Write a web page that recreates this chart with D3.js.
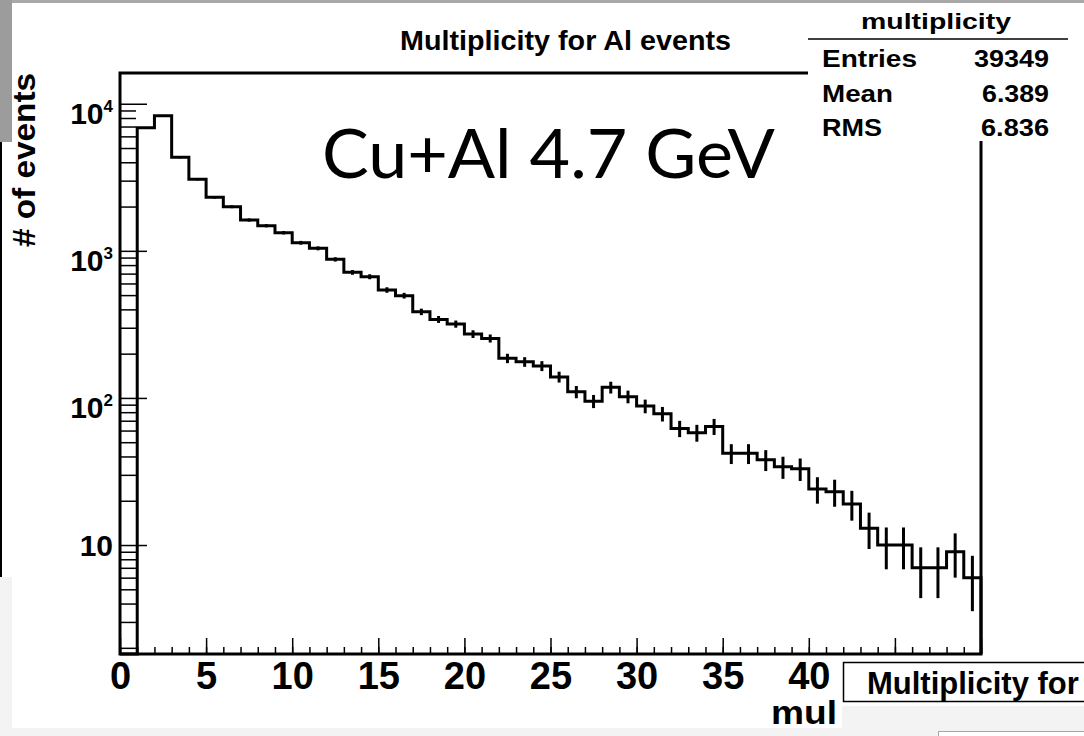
<!DOCTYPE html>
<html>
<head>
<meta charset="utf-8">
<script src="https://d3js.org/d3.v7.min.js"></script>
<style>
  body { margin: 0; background: white; }
  svg { display: block; font-family: "Liberation Sans", Arial, sans-serif; }
</style>
</head>
<body>
<div id="plot"></div>
<script>
// DATA: multiplicity histogram, 50 bins of width 1 from 0 to 50
var bin_lo = 0;
var bin_hi = 50;
var counts = [
  0, 6870, 8280, 4320, 3063, 2311, 1994, 1620, 1482, 1328,
  1135, 1040, 875, 714, 667, 542, 496, 385, 342, 318,
  272, 254, 186, 176, 165, 139, 110, 95, 118, 102,
  88, 78, 62, 58, 64, 42, 42, 38, 34, 33,
  24, 23, 19, 13, 10, 10, 7, 7, 9, 6
];
var y_major = [10, 100, 1000, 10000];
var x_major = [0, 5, 10, 15, 20, 25, 30, 35, 40, 45, 50];
var x_labelled = 40; // labels past this are hidden under the next pad
var stats_labels = ["Entries", "Mean", "RMS"];
var stats_values = ["39349", "6.389", "6.836"];

var width = 1084;
var height = 736;

// frame of the pad
var frame = {left: 120, right: 981, top: 73, bottom: 654};
var line_width = 3;

var svg = d3.select("#plot").append("svg")
  .attr("width", width)
  .attr("height", height);

// screenshot background bits
svg.append("rect").attr("x", 0).attr("y", 0).attr("width", width).attr("height", 3).attr("fill", "#a8a8a8");
svg.append("rect").attr("x", 0).attr("y", 0).attr("width", 12).attr("height", 142).attr("fill", "#9c9c9c");
svg.append("rect").attr("x", 0).attr("y", 142).attr("width", 2).attr("height", 435).attr("fill", "black");
svg.append("rect").attr("x", 0).attr("y", 577).attr("width", 12).attr("height", 159).attr("fill", "#f3f3f3");
svg.append("rect").attr("x", 0).attr("y", 728).attr("width", 842).attr("height", 8).attr("fill", "#f3f3f3");

var x = d3.scaleLinear()
  .domain([bin_lo, bin_hi])
  .range([frame.left, frame.right]);

var y = d3.scaleLog()
  .domain([1.816, 16180])
  .range([frame.bottom, frame.top]);

function yv(v) {
  if (v <= 0) return frame.bottom;
  return y(v);
}

// HISTOGRAM step line
var pts = [[x(bin_lo), frame.bottom]];
counts.forEach(function(c, i) {
  pts.push([x(bin_lo + i), yv(c)]);
  pts.push([x(bin_lo + i + 1), yv(c)]);
});
pts.push([x(bin_hi), frame.bottom]);

svg.append("path")
  .attr("d", d3.line()(pts))
  .attr("fill", "none")
  .attr("stroke", "black")
  .attr("stroke-width", line_width)
  .attr("stroke-linejoin", "miter");

// error bars sqrt(N)
svg.append("g").selectAll("line")
  .data(counts.map(function(c, i) { return {c: c, i: i}; }).filter(function(d) { return d.c > 0; }))
  .enter().append("line")
    .attr("x1", function(d) { return x(bin_lo + d.i + 0.5); })
    .attr("x2", function(d) { return x(bin_lo + d.i + 0.5); })
    .attr("y1", function(d) { return yv(d.c + Math.sqrt(d.c)); })
    .attr("y2", function(d) { return yv(d.c - Math.sqrt(d.c)); })
    .attr("stroke", "black")
    .attr("stroke-width", line_width);

// FRAME
svg.append("rect")
  .attr("x", frame.left)
  .attr("y", frame.top)
  .attr("width", frame.right - frame.left)
  .attr("height", frame.bottom - frame.top)
  .attr("fill", "none")
  .attr("stroke", "black")
  .attr("stroke-width", line_width);

// X AXIS - ticks point into the frame
var xminor = svg.append("g")
  .attr("transform", "translate(0," + frame.bottom + ")")
  .call(d3.axisBottom(x).ticks(50).tickSize(-7).tickFormat(""));
xminor.select(".domain").remove();
xminor.selectAll("line").attr("stroke-width", 1.5);

var xaxis = svg.append("g")
  .attr("transform", "translate(0," + frame.bottom + ")")
  .call(d3.axisBottom(x).tickValues(x_major).tickSize(-16).tickPadding(8)
    .tickFormat(function(d) { return d <= x_labelled ? d3.format("d")(d) : ""; }));
xaxis.select(".domain").remove();
xaxis.selectAll("line").attr("stroke-width", 1.5);
xaxis.selectAll("text")
  .attr("font-family", "Liberation Sans, Arial, sans-serif")
  .attr("font-weight", "bold")
  .attr("font-size", 38)
  .attr("fill", "black");

// Y AXIS - log, minor ticks 2..9
var ymin = svg.append("g")
  .attr("transform", "translate(" + frame.left + ",0)")
  .call(d3.axisLeft(y).tickValues(y.ticks().filter(function(t) { return y_major.indexOf(t) < 0; }))
    .tickSize(-16).tickFormat(""));
ymin.select(".domain").remove();
ymin.selectAll("line").attr("stroke-width", 1.5);

var yaxis = svg.append("g")
  .attr("transform", "translate(" + frame.left + ",0)")
  .call(d3.axisLeft(y).tickValues(y_major).tickSize(-27).tickFormat(""));
yaxis.select(".domain").remove();
yaxis.selectAll("line").attr("stroke-width", 1.5);

var ylab = svg.append("g").selectAll("text")
  .data(y_major)
  .enter().append("text")
    .attr("x", frame.left - 7)
    .attr("y", function(d) { return y(d) + (d == 10 ? 11 : 20); })
    .attr("text-anchor", "end")
    .attr("font-weight", "bold")
    .attr("font-size", 30)
    .attr("fill", "black");
ylab.append("tspan").text("10");
ylab.filter(function(d) { return d != 10; })
  .append("tspan")
    .attr("dy", -12)
    .attr("font-size", 17)
    .text(function(d) { return Math.round(Math.log10(d)); });

// axis titles
svg.append("text")
  .attr("transform", "translate(35,73) rotate(-90)")
  .attr("text-anchor", "end")
  .attr("font-weight", "bold")
  .attr("font-size", 31)
  .attr("textLength", 174)
  .attr("lengthAdjust", "spacingAndGlyphs")
  .text("# of events");

svg.append("text")
  .attr("x", 837)
  .attr("y", 724)
  .attr("text-anchor", "end")
  .attr("font-weight", "bold")
  .attr("font-size", 34)
  .attr("textLength", 66)
  .attr("lengthAdjust", "spacingAndGlyphs")
  .text("mul");

// TITLE
svg.append("text")
  .attr("x", 400)
  .attr("y", 50)
  .attr("font-weight", "bold")
  .attr("font-size", 28.5)
  .attr("textLength", 331)
  .attr("lengthAdjust", "spacingAndGlyphs")
  .text("Multiplicity for Al events");

// STATS BOX
svg.append("rect")
  .attr("x", 808).attr("y", 3)
  .attr("width", width - 808).attr("height", 138)
  .attr("fill", "white");
svg.append("line")
  .attr("x1", 808).attr("x2", 1068)
  .attr("y1", 39).attr("y2", 39)
  .attr("stroke", "black").attr("stroke-width", 1.5);
svg.append("text")
  .attr("x", 861).attr("y", 29)
  .attr("font-weight", "bold").attr("font-size", 22)
  .attr("textLength", 150).attr("lengthAdjust", "spacingAndGlyphs")
  .text("multiplicity");

var label_w = [95, 71, 60];
var value_w = [75, 67, 68];
var row_y = [67, 102, 136];
stats_labels.forEach(function(s, i) {
  svg.append("text")
    .attr("x", 822).attr("y", row_y[i])
    .attr("font-weight", "bold").attr("font-size", 23.5)
    .attr("textLength", label_w[i]).attr("lengthAdjust", "spacingAndGlyphs")
    .text(s);
  svg.append("text")
    .attr("x", 1049 - value_w[i]).attr("y", row_y[i])
    .attr("font-weight", "bold").attr("font-size", 23.5)
    .attr("textLength", value_w[i]).attr("lengthAdjust", "spacingAndGlyphs")
    .text(stats_values[i]);
});

// big annotation (thin humanist sans)
svg.append("text")
  .attr("x", 322)
  .attr("y", 178)
  .style("font-family", "Lato, 'Noto Sans', sans-serif")
  .attr("font-size", 68)
  .attr("textLength", 453)
  .attr("lengthAdjust", "spacingAndGlyphs")
  .text("Cu+Al 4.7 GeV");

// next pad overlapping the bottom right corner
svg.append("rect")
  .attr("x", 842).attr("y", 656)
  .attr("width", width - 842).attr("height", height - 656)
  .attr("fill", "white");
svg.append("rect")
  .attr("x", 842).attr("y", 706)
  .attr("width", width - 842).attr("height", height - 706)
  .attr("fill", "#f3f3f3");
svg.append("rect")
  .attr("x", 843.5).attr("y", 662.5)
  .attr("width", 260).attr("height", 39)
  .attr("fill", "white")
  .attr("stroke", "black")
  .attr("stroke-width", 1.5);
svg.append("text")
  .attr("x", 867).attr("y", 694)
  .attr("font-weight", "bold").attr("font-size", 31)
  .text("Multiplicity for");
svg.append("rect")
  .attr("x", 938.5).attr("y", 731.5)
  .attr("width", 160).attr("height", 10)
  .attr("fill", "white")
  .attr("stroke", "#555")
  .attr("stroke-dasharray", "1,1");
</script>
</body>
</html>
